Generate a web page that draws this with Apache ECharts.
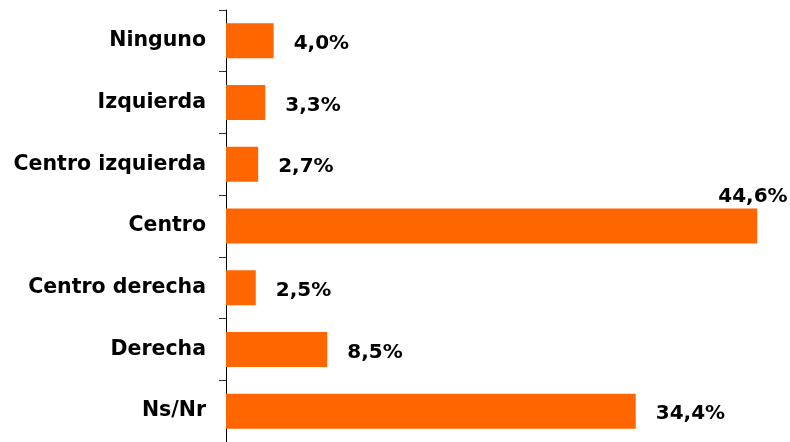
<!DOCTYPE html>
<html>
<head>
<meta charset="utf-8">
<script src="https://cdn.jsdelivr.net/npm/echarts@6/dist/echarts.min.js"></script>
<style>
  html, body { margin: 0; padding: 0; background: #fff; }
  #chart { width: 790px; height: 442px; }
</style>
</head>
<body>
<div id="chart"></div>
<script>
const categories = ['Ninguno', 'Izquierda', 'Centro izquierda', 'Centro', 'Centro derecha', 'Derecha', 'Ns/Nr']
const values = [4.0, 3.3, 2.7, 44.6, 2.5, 8.5, 34.4]

const fmt = v => v.toFixed(1).replace('.', ',') + '%'
const font = '"DejaVu Sans", sans-serif'

const chart = echarts.init(document.getElementById('chart'))

chart.setOption({
  animation: false,
  grid: { left: 226, right: 28, top: 10, height: 435 },
  xAxis: {
    type: 'value',
    min: 0,
    max: 45,
    show: false,
  },
  yAxis: {
    type: 'category',
    inverse: true,
    data: categories,
    axisLine: { show: true, lineStyle: { color: '#000', width: 1 } },
    axisTick: { show: true, length: 7, lineStyle: { color: '#333', width: 1 } },
    axisLabel: {
      margin: 20,
      color: '#000',
      fontFamily: font,
      fontWeight: 'bold',
      fontSize: 20.5,
    },
  },
  series: [{
    type: 'bar',
    barWidth: 35,
    data: values.map((v, i) => {
      const item = { value: v }
      // the big "Centro" bar has its label lifted above the bar end
      if (categories[i] === 'Centro') {
        item.label = { offset: [-59, -29] }
      }
      return item
    }),
    itemStyle: { color: '#FF6600' },
    label: {
      show: true,
      position: 'right',
      distance: 20,
      offset: [0, 3],
      color: '#000',
      fontFamily: font,
      fontWeight: 'bold',
      fontSize: 20,
      formatter: p => fmt(p.value),
    },
  }],
})
</script>
</body>
</html>
